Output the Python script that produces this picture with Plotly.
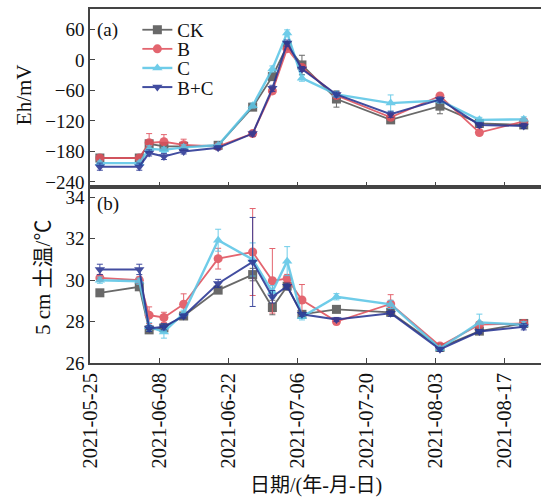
import plotly.graph_objects as go

dates = ["2021-05-27", "2021-06-04", "2021-06-06", "2021-06-09", "2021-06-13",
         "2021-06-20", "2021-06-27", "2021-07-01", "2021-07-04", "2021-07-07",
         "2021-07-14", "2021-07-25", "2021-08-04", "2021-08-12", "2021-08-21"]

series_names = ["CK", "B", "C", "B+C"]

eh_ck = [-193, -193, -165, -170, -170, -168, -93, -33, 28, -10, -77, -118, -91, -125, -128]
eh_b = [-193, -193, -163, -161, -167, -170, -145, -61, 22, -15, -70, -113, -71, -143, -121]
eh_c = [-203, -203, -175, -177, -172, -168, -90, -18, 53, -36, -68, -85, -80, -118, -117]
eh_bc = [-210, -210, -183, -190, -180, -173, -145, -56, 33, -18, -68, -107, -78, -128, -130]

eh_ck_err = [4, 4, 6, 5, 5, 4, 5, 6, 8, 19, 16, 6, 15, 5, 5]
eh_b_err = [5, 5, 18, 14, 11, 4, 5, 6, 6, 6, 6, 5, 5, 5, 5]
eh_c_err = [4, 4, 6, 5, 5, 4, 5, 6, 6, 6, 6, 16, 5, 5, 5]
eh_bc_err = [7, 7, 6, 6, 5, 4, 5, 6, 6, 5, 5, 6, 5, 5, 5]

t_ck = [29.39, 29.68, 27.6, 27.7, 28.27, 29.52, 30.27, 28.68, 29.71, 28.35, 28.59, 28.45, 26.75, 27.54, 27.91]
t_b = [30.11, 30.0, 28.31, 28.2, 28.84, 31.04, 31.36, 29.97, 30.08, 29.04, 28.0, 28.85, 26.82, 27.85, 27.91]
t_c = [30.0, 29.95, 27.75, 27.5, 28.4, 31.93, 31.0, 29.44, 30.92, 28.23, 29.2, 28.83, 26.7, 27.96, 27.85]
t_bc = [30.52, 30.52, 27.67, 27.75, 28.27, 29.84, 30.88, 29.2, 29.71, 28.35, 28.1, 28.4, 26.66, 27.52, 27.75]

t_ck_err = [0.1, 0.1, 0.15, 0.15, 0.1, 0.15, 0.3, 0.35, 0.15, 0.1, 0.1, 0.15, 0.1, 0.1, 0.1]
t_b_err = [0.15, 0.15, 0.4, 0.25, 0.5, 0.5, 2.1, 1.56, 0.2, 0.75, 0.15, 0.45, 0.1, 0.15, 0.15]
t_c_err = [0.15, 0.15, 0.2, 0.3, 0.15, 0.53, 0.8, 0.3, 0.7, 0.15, 0.15, 0.2, 0.1, 0.4, 0.15]
t_bc_err = [0.25, 0.25, 0.15, 0.15, 0.1, 0.2, 2.15, 0.3, 0.15, 0.1, 0.1, 0.15, 0.1, 0.1, 0.15]

x_ticks = ["2021-05-25", "2021-06-08", "2021-06-22", "2021-07-06",
           "2021-07-20", "2021-08-03", "2021-08-17"]

colors = ["#555555", "#e0505c", "#5cc6e6", "#283593"]
symbols = ["square", "circle", "triangle-up", "triangle-down"]
eh_data = [eh_ck, eh_b, eh_c, eh_bc]
eh_err = [eh_ck_err, eh_b_err, eh_c_err, eh_bc_err]
t_data = [t_ck, t_b, t_c, t_bc]
t_err = [t_ck_err, t_b_err, t_c_err, t_bc_err]
widths = [1.8, 1.8, 2.4, 2.0]
legend_ids = ["legend", "legend2", "legend3", "legend4"]
legend_rows = [0.941, 0.887, 0.833, 0.779]

SERIF = "Liberation Serif, Times New Roman, Noto Sans CJK SC, serif"

fig = go.Figure()
for i, name in enumerate(series_names):
    fig.add_trace(go.Scatter(
        x=dates, y=eh_data[i], name=name, mode="lines+markers",
        line=dict(color=colors[i], width=widths[i]),
        marker=dict(symbol=symbols[i], size=9, color=colors[i]),
        error_y=dict(type="data", array=eh_err[i], color=colors[i], thickness=1, width=3),
        opacity=0.88, xaxis="x", yaxis="y", showlegend=True, legend=legend_ids[i]))
for i, name in enumerate(series_names):
    fig.add_trace(go.Scatter(
        x=dates, y=t_data[i], name=name, mode="lines+markers",
        line=dict(color=colors[i], width=widths[i]),
        marker=dict(symbol=symbols[i], size=9, color=colors[i]),
        error_y=dict(type="data", array=t_err[i], color=colors[i], thickness=1, width=3),
        opacity=0.88, xaxis="x2", yaxis="y2", showlegend=False))

xrange = ["2021-05-25", "2021-08-24 12:00"]
axis_common = dict(showline=True, linecolor="#444444", linewidth=1.5,
                   ticks="inside", ticklen=5, tickcolor="#444444", showgrid=False,
                   zeroline=False)

split = 176 / 354
layout_legends = {}
for i, lid in enumerate(legend_ids):
    layout_legends[lid] = dict(x=0.105, y=legend_rows[i], xanchor="left", yanchor="middle",
                               bgcolor="rgba(0,0,0,0)", font=dict(size=19, family=SERIF),
                               itemwidth=30)

fig.update_layout(
    width=541, height=499,
    margin=dict(l=90, r=0, t=9, b=136),
    paper_bgcolor="white", plot_bgcolor="white",
    font=dict(family=SERIF, size=19, color="#111111"),
    xaxis=dict(domain=[0, 1], anchor="y", range=xrange, type="date",
               tickvals=x_ticks, showticklabels=False, mirror=True, **axis_common),
    yaxis=dict(domain=[split, 1], anchor="x", range=[-250, 100],
               tickvals=[60, 0, -60, -120, -180, -240], tickfont=dict(size=19), **axis_common),
    xaxis2=dict(domain=[0, 1], anchor="y2", range=xrange, type="date",
                tickvals=x_ticks, ticktext=x_ticks, tickangle=-90, mirror=True,
                tickfont=dict(size=20.5), **axis_common),
    yaxis2=dict(domain=[0, split], anchor="x2", range=[26, 34.5],
                tickvals=[26, 28, 30, 32, 34], tickfont=dict(size=19), **axis_common),
    showlegend=True,
    **layout_legends,
)

fig.add_annotation(text="(a)", x=0.012, y=0.941, xref="paper", yref="paper",
                   xanchor="left", yanchor="middle", showarrow=False,
                   font=dict(size=19, family=SERIF))
fig.add_annotation(text="(b)", x=0.012, y=0.449, xref="paper", yref="paper",
                   xanchor="left", yanchor="middle", showarrow=False,
                   font=dict(size=19, family=SERIF))
fig.add_annotation(text="Eh/mV", x=-0.146, y=0.757, xref="paper", yref="paper",
                   xanchor="center", yanchor="middle", textangle=-90, showarrow=False,
                   font=dict(size=21, family=SERIF))
fig.add_annotation(text="5 cm 土温/℃", x=-0.104, y=0.243, xref="paper", yref="paper",
                   xanchor="center", yanchor="middle", textangle=-90, showarrow=False,
                   font=dict(size=21, family=SERIF))
fig.add_annotation(text="日期/(年-月-日)", x=0.5, y=-0.345, xref="paper", yref="paper",
                   xanchor="center", yanchor="middle", showarrow=False,
                   font=dict(size=20, family=SERIF))

fig.write_html("out.html")
